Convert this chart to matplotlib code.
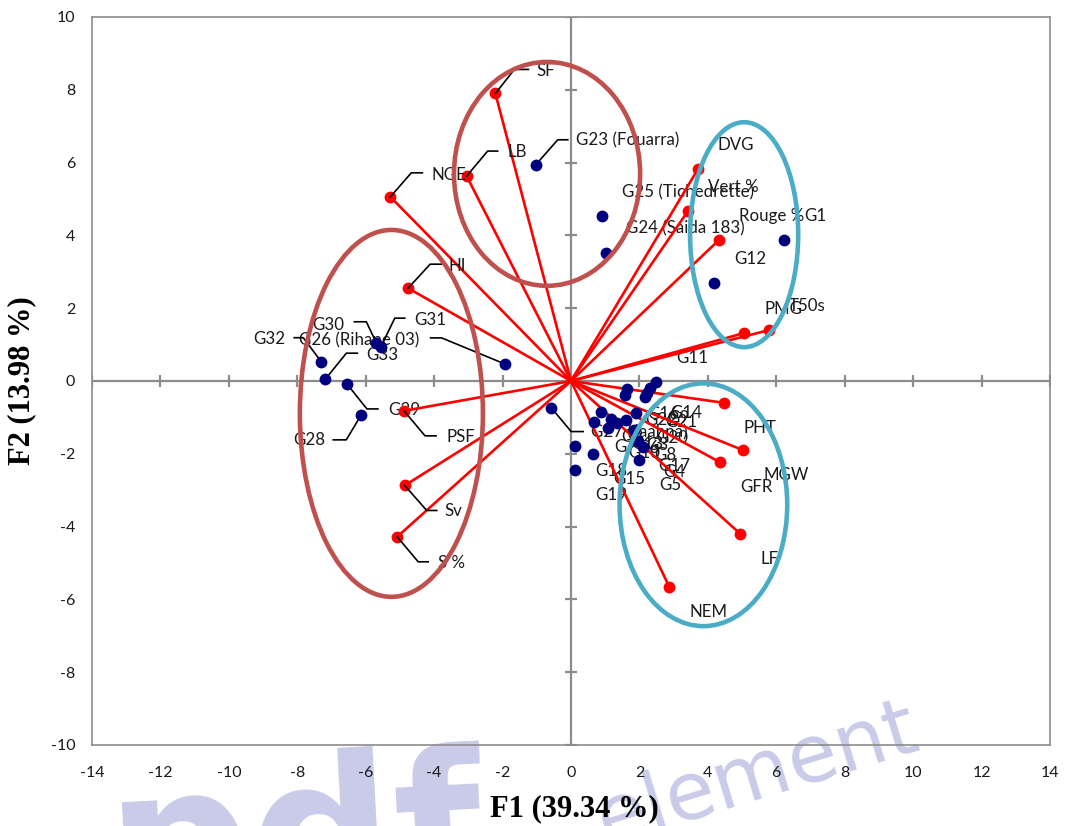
import numpy as np
import matplotlib
matplotlib.use("Agg")
import matplotlib.pyplot as plt
from matplotlib.patches import Ellipse

plt.rcParams['axes.unicode_minus'] = False
plt.rcParams['font.family'] = ['Lato', 'DejaVu Sans']

# ---- PCA scores: genotypes (F1, F2) ----
geno_names = ['G1', 'G2', 'G3', 'G4', 'G5', 'G6', 'G7', 'G8', 'G9', 'G10',
              'G11', 'G12', 'G13', 'G14', 'G15', 'G16', 'G17', 'G18', 'G19',
              'G20', 'G21', 'G22', 'G23 (Fouarra)', 'G24 (Saida 183)',
              'G25 (Tichedrette)', 'G26 (Rihane 03)', 'G27 (Jaahna)', 'G28',
              'G29', 'G30', 'G31', 'G32', 'G33']
geno_f1 = [6.23, 0.88, 1.61, 2.10, 1.99, 1.34, 0.67, 1.84, 2.22, 1.08,
           2.48, 4.18, 1.17, 2.31, 0.64, 1.64, 1.96, 0.12, 0.12,
           1.90, 2.16, 1.58, -1.03, 1.02,
           0.91, -1.94, -0.58, -6.13,
           -6.55, -5.69, -5.56, -7.30, -7.18]
geno_f2 = [3.87, -0.85, -1.07, -1.81, -2.17, -1.15, -1.13, -1.35, -0.33, -1.29,
           -0.03, 2.69, -1.04, -0.19, -2.01, -0.22, -1.65, -1.79, -2.45,
           -0.88, -0.44, -0.38, 5.94, 3.52,
           4.53, 0.47, -0.73, -0.93,
           -0.08, 1.05, 0.93, 0.53, 0.05]

# ---- PCA loadings: variables (F1, F2) ----
var_names = ['SF', 'LB', 'NGE', 'HI', 'PSF', 'Sv', 'S %', 'DVG', 'Vert %',
             'Rouge %', 'PMG', 'T50s', 'PHT', 'MGW', 'GFR', 'LF', 'NEM']
var_f1 = [-2.21, -3.05, -5.28, -4.76, -4.88, -4.86, -5.08, 3.71, 3.42,
          4.32, 5.07, 5.79, 4.47, 5.03, 4.35, 4.95, 2.87]
var_f2 = [7.90, 5.63, 5.06, 2.55, -0.82, -2.87, -4.28, 5.82, 4.67,
          3.87, 1.32, 1.40, -0.60, -1.90, -2.23, -4.20, -5.65]

x_ticks = list(range(-14, 15, 2))
y_ticks = list(range(-10, 11, 2))
x_title = 'F1 (39.34 %)'
y_title = 'F2 (13.98 %)'

# ---- figure ----
W, H = 1071, 826
fig = plt.figure(figsize=(W / 100, H / 100), dpi=100)
ax = fig.add_axes([92 / W, 1 - 745 / H, (1050 - 92) / W, (745 - 17) / H])
ax.set_xlim(-14, 14)
ax.set_ylim(-10, 10)
ax.set_facecolor('none')

frame_col = '#8c8c8c'
for s in ax.spines.values():
    s.set_color(frame_col)
    s.set_linewidth(1.2)

ax.set_xticks(x_ticks)
ax.set_yticks(y_ticks)
ax.tick_params(axis='both', length=0, labelsize=11.5, labelcolor='#1a1a1a')
ax.tick_params(axis='x', pad=15)
ax.tick_params(axis='y', pad=12)

# axes through the origin, with cross ticks
ax.axhline(0, color=frame_col, lw=1.6, zorder=1)
ax.axvline(0, color=frame_col, lw=1.6, zorder=1)
ax.plot(x_ticks, np.zeros(len(x_ticks)), ls='none', marker='|', ms=8,
        mew=1.6, color=frame_col, zorder=1)
ax.plot(np.zeros(len(y_ticks)), y_ticks, ls='none', marker='_', ms=8,
        mew=1.6, color=frame_col, zorder=1)

# variable vectors
for vx, vy in zip(var_f1, var_f2):
    ax.plot([0, vx], [0, vy], color='red', lw=1.9, zorder=3,
            solid_capstyle='round')
ax.plot(var_f1, var_f2, ls='none', marker='o', ms=7.5, color='red', zorder=3.2)

# genotypes
ax.plot(geno_f1, geno_f2, ls='none', marker='o', ms=7.5, color='#00007f',
        zorder=3.5)

# ---- labels ----
PX = 0.72  # pixel -> point at 100 dpi
LABEL_SIZE = 12.2


def shift(x, y, dx, dy):
    """Point (x, y) moved by (dx, dy) pixels, dy counted downwards."""
    p = ax.transData.transform((x, y)) + np.array([dx, -dy])
    return ax.transData.inverted().transform(p)


# labels with leader lines: elbow, end of the horizontal stub, text anchor
leaders = {
    'SF': ((19, -24), (33, -24), (41, -22), 'left'),
    'LB': ((21, -25), (31, -25), (41, -24), 'left'),
    'NGE': ((21, -24), (32, -24), (41, -22), 'left'),
    'HI': ((22, -24), (33, -24), (40, -22), 'left'),
    'PSF': ((21, 25), (32, 25), (42, 26), 'left'),
    'Sv': ((22, 25), (32, 25), (40, 26), 'left'),
    'S %': ((21, 25), (31, 25), (41, 26), 'left'),
    'G23 (Fouarra)': ((22, -25), (32, -25), (40, -24), 'left'),
    'G27 (Jaahna)': ((20, 24), (32, 24), (40, 25), 'left'),
    'G31': ((14, -29), (24, -29), (33, -27), 'left'),
    'G30': ((-10, -21), (-22, -21), (-32, -18), 'right'),
    'G26 (Rihane 03)': ((-63, -26), (-74, -26), (-85, -24), 'right'),
    'G32': ((-18, -24), (-27, -24), (-36, -23), 'right'),
    'G33': ((21, -26), (32, -26), (41, -24), 'left'),
    'G29': ((20, 25), (31, 25), (41, 26), 'left'),
    'G28': ((-15, 25), (-28, 25), (-36, 25), 'right'),
}
above = {'G11'}


def put_label(name, x, y, z):
    if name in leaders:
        elbow, end, txt, ha = leaders[name]
        pts = [(x, y), shift(x, y, *elbow), shift(x, y, *end)]
        ax.plot([p[0] for p in pts], [p[1] for p in pts], color='black',
                lw=1.2, zorder=z)
        ax.annotate(name, (x, y), xytext=(txt[0] * PX, -txt[1] * PX),
                    textcoords='offset points', ha=ha, va='center',
                    fontsize=LABEL_SIZE, color='#1a1a1a', zorder=z)
    else:
        dy = -24 if (y > 0 or name in above) else 25
        ax.annotate(name, (x, y), xytext=(20 * PX, -dy * PX),
                    textcoords='offset points', ha='left', va='center',
                    fontsize=LABEL_SIZE, color='#1a1a1a', zorder=z)


for n, x, y in zip(geno_names, geno_f1, geno_f2):
    put_label(n, x, y, 2)
for n, x, y in zip(var_names, var_f1, var_f2):
    put_label(n, x, y, 4)

# groups
brown, teal = '#c0504d', '#4bacc6'
groups = [((-0.70, 5.69), 5.44, 6.15, brown),
          ((-5.25, -0.89), 5.35, 10.08, brown),
          ((5.06, 4.02), 3.16, 6.18, teal),
          ((3.87, -3.40), 4.90, 6.67, teal)]
for c, w, h, col in groups:
    ax.add_patch(Ellipse(c, w, h, fill=False, ec=col, lw=3.3, zorder=6))

# axis titles
fig.text(574 / W, 1 - 809 / H, x_title, ha='center', va='center',
         fontsize=22, fontweight='bold', family='Liberation Serif')
fig.text(22 / W, 1 - 381 / H, y_title, ha='center', va='center',
         rotation=90, fontsize=22, fontweight='bold', family='Liberation Serif')

# background watermark
wm_col = '#c9cbe8'
fig.text(110 / W, 1 - 912 / H, 'pdf', ha='left', va='baseline',
         rotation=3, rotation_mode='anchor', fontsize=145, fontweight='heavy',
         family='DejaVu Sans', color=wm_col, zorder=-5)
fig.text(605 / W, 1 - 845 / H, 'element', ha='left', va='baseline',
         rotation=17, rotation_mode='anchor', fontsize=58,
         family='DejaVu Sans', color=wm_col, zorder=-5)

fig.savefig('out.png', dpi=100, facecolor='white')
